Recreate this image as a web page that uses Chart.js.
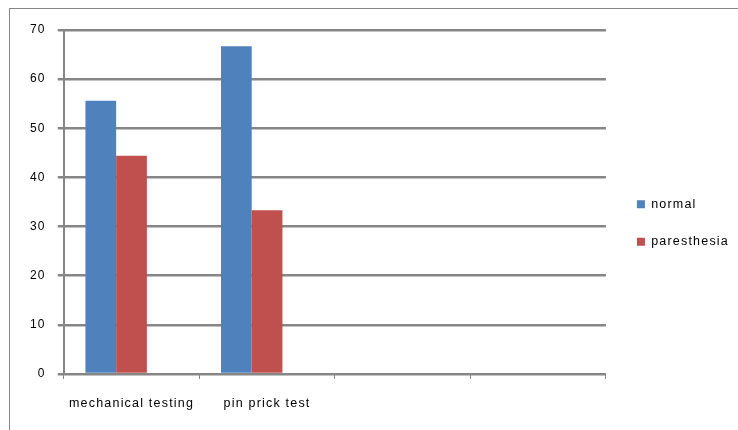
<!DOCTYPE html>
<html>
<head>
<meta charset="utf-8">
<script src="https://cdn.jsdelivr.net/npm/chart.js@4"></script>
<style>
  html, body { margin: 0; padding: 0; background: #fff; overflow: hidden; }
  #wrap { position: relative; width: 738px; height: 430px; }
  #frame { position: absolute; left: 9px; top: 8px; width: 800px; height: 500px; border: 1px solid #868686; }
  canvas { position: absolute; left: 0; top: 0; }
</style>
</head>
<body>
<div id="wrap">
  <div id="frame"></div>
  <canvas id="chart" width="738" height="430"></canvas>
</div>
<script>
// categories (two trailing empty slots, as in the original sheet)
var categories = ['mechanical testing', 'pin prick test', '', ''];
var normal = [55.6, 66.7, null, null];
var paresthesia = [44.4, 33.3, null, null];
// the sheet had a third, empty series which still takes its slot
var emptySeries = [null, null, null, null];
var yTicks = [0, 10, 20, 30, 40, 50, 60, 70];

// the old excel export draws its text loosely spaced
var spacing = {
    id: 'spacing',
    beforeLayout: function (chart) { chart.ctx.letterSpacing = '1.2px'; },
    beforeDraw: function (chart) { chart.ctx.letterSpacing = '1.2px'; },
    afterLayout: function (chart) {
        // nudge the legend a bit right and up
        var lg = chart.legend;
        lg.left += 6; lg.right += 6;
        lg.top -= 6; lg.bottom -= 6;
    }
};

var ctx = document.getElementById('chart').getContext('2d');
var myChart = new Chart(ctx, {
    type: 'bar',
    data: {
        labels: categories,
        datasets: [{
            label: 'normal',
            data: normal,
            backgroundColor: '#4F81BD',
            categoryPercentage: 0.68,
            barPercentage: 1.0
        }, {
            label: 'paresthesia',
            data: paresthesia,
            backgroundColor: '#C0504D',
            categoryPercentage: 0.68,
            barPercentage: 1.0
        }, {
            label: '',
            data: emptySeries,
            backgroundColor: '#9BBB59',
            categoryPercentage: 0.68,
            barPercentage: 1.0
        }]
    },
    plugins: [spacing],
    options: {
        responsive: false,
        animation: false,
        layout: { padding: { left: 18, top: 30, right: 5, bottom: 2 } },
        plugins: {
            tooltip: { enabled: false },
            legend: {
                position: 'right',
                labels: {
                    boxWidth: 8,
                    boxHeight: 8,
                    padding: 25,
                    color: '#000',
                    font: { family: 'Liberation Sans', size: 12.5 },
                    filter: function (item) { return item.text !== ''; }
                }
            }
        },
        scales: {
            x: {
                grid: {
                    offset: true,
                    drawOnChartArea: false,
                    drawTicks: true,
                    tickLength: 5,
                    color: '#868686',
                    lineWidth: 1
                },
                border: { color: '#868686', width: 2 },
                ticks: {
                    color: '#000',
                    padding: 17,
                    maxRotation: 0,
                    font: { family: 'Liberation Sans', size: 12.5 }
                }
            },
            y: {
                min: 0,
                max: 70,
                afterBuildTicks: function (axis) {
                    axis.ticks = yTicks.map(function (v) { return { value: v }; });
                },
                grid: {
                    color: '#868686',
                    lineWidth: 2.5,
                    tickLength: 6
                },
                border: { color: '#868686', width: 2 },
                ticks: {
                    color: '#000',
                    padding: 12,
                    font: { family: 'Liberation Sans', size: 12 }
                }
            }
        }
    }
});
</script>
</body>
</html>
